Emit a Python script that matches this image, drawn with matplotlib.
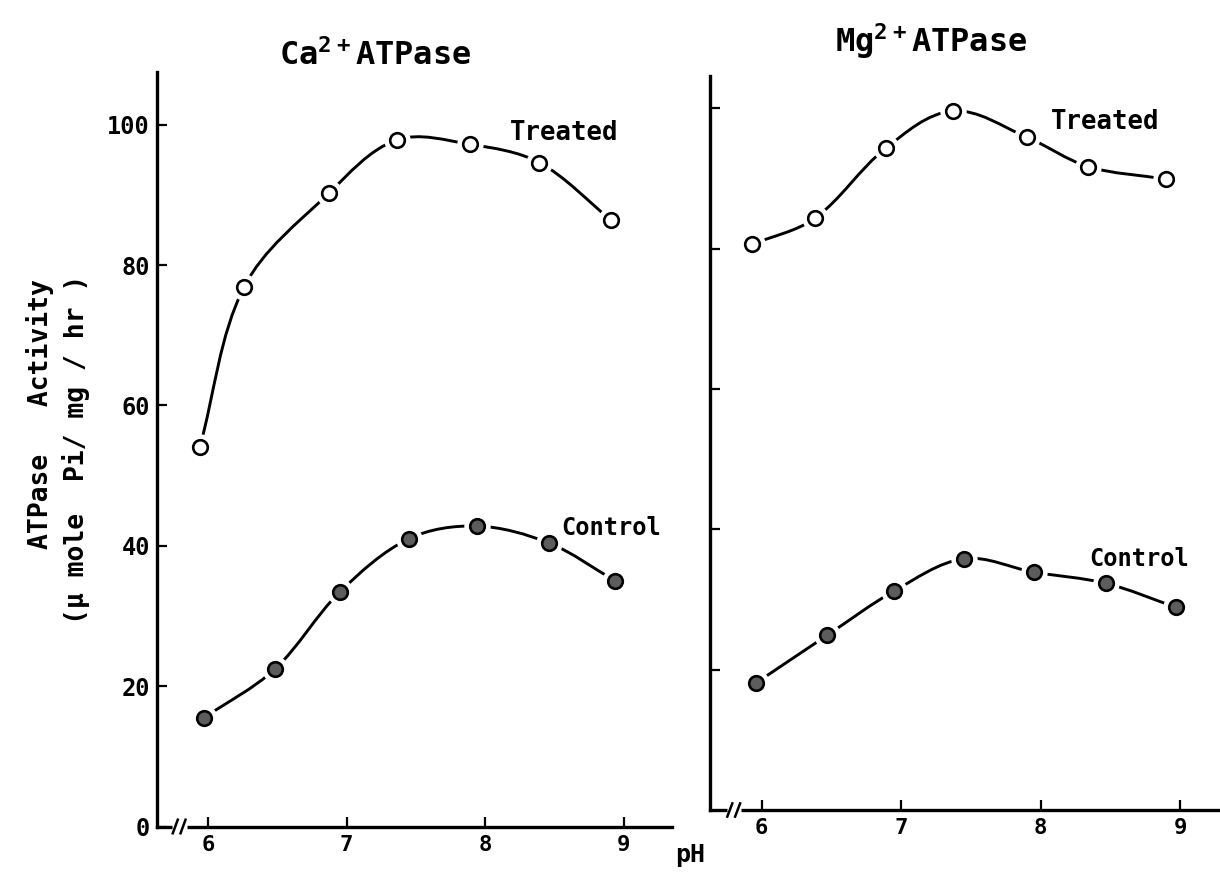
import numpy as np
import matplotlib
matplotlib.use("Agg")
import matplotlib.pyplot as plt
from matplotlib.path import Path
from matplotlib.patches import PathPatch
import matplotlib.transforms as mtransforms

plt.rcParams['font.family'] = ['DejaVu Sans Mono', 'DejaVu Sans']
plt.rcParams['font.weight'] = 'bold'
plt.rcParams['mathtext.default'] = 'regular'

# Ca2+ ATPase activity vs pH
ca_treated_ph = [5.94, 6.26, 6.87, 7.36, 7.89, 8.39, 8.91]
ca_treated = [54.1, 76.9, 90.2, 97.8, 97.2, 94.6, 86.4]
ca_control_ph = [5.97, 6.48, 6.95, 7.45, 7.94, 8.46, 8.94]
ca_control = [15.5, 22.4, 33.4, 41.0, 42.8, 40.4, 35.0]

# Mg2+ ATPase activity vs pH
mg_treated_ph = [5.93, 6.38, 6.89, 7.37, 7.90, 8.34, 8.90]
mg_treated = [80.6, 84.3, 94.3, 99.6, 95.9, 91.7, 89.9]
mg_control_ph = [5.96, 6.47, 6.95, 7.45, 7.95, 8.47, 8.97]
mg_control = [18.1, 24.9, 31.2, 35.8, 33.9, 32.3, 28.9]

ph_ticks = [6, 7, 8, 9]
activity_ticks = [0, 20, 40, 60, 80, 100]
activity_ticks_right = [20, 40, 60, 80, 100]


def smooth_path(ax, x, y):
    """Smooth Bezier curve through the points, shaped in screen space."""
    pts = ax.transData.transform(np.column_stack([x, y]).astype(float))
    n = len(pts)
    tang = []
    for i in range(n):
        if i == 0:
            d = pts[1] - pts[0]
        elif i == n - 1:
            d = pts[-1] - pts[-2]
        else:
            d = pts[i + 1] - pts[i - 1]
        tang.append(d / np.hypot(*d))
    verts = [pts[0]]
    codes = [Path.MOVETO]
    for i in range(n - 1):
        seg = np.hypot(*(pts[i + 1] - pts[i]))
        c1 = pts[i] + tang[i] * seg / 3.0
        c2 = pts[i + 1] - tang[i + 1] * seg / 3.0
        verts += [c1, c2, pts[i + 1]]
        codes += [Path.CURVE4] * 3
    verts = ax.transData.inverted().transform(np.array(verts))
    return Path(verts, codes)


def draw_series(ax, x, y, face):
    ax.add_patch(PathPatch(smooth_path(ax, x, y), fill=False, lw=2.1,
                           ec='black', zorder=2, capstyle='butt'))
    ax.plot(x, y, 'o', ms=19, mfc='white', mec='none', zorder=3)
    ax.plot(x, y, 'o', ms=10.5, mfc=face, mec='black', mew=1.9, zorder=4)


def style_axes(ax):
    for s in ('top', 'right'):
        ax.spines[s].set_visible(False)
    for s in ('left', 'bottom'):
        ax.spines[s].set_linewidth(2.4)
    ax.tick_params(axis='both', direction='in', length=7, width=1.6)
    ax.tick_params(axis='x', labelsize=16, pad=6)
    ax.tick_params(axis='y', labelsize=17, pad=5)
    ax.set_xticks(ph_ticks)
    ax.set_xticklabels([str(t) for t in ph_ticks])


def axis_break(ax, xb):
    trans = mtransforms.blended_transform_factory(ax.transData, ax.transAxes)
    ax.plot([xb - 0.05, xb + 0.055], [0, 0], color='white', lw=5,
            transform=trans, clip_on=False, zorder=5, solid_capstyle='butt')
    for dx in (-0.028, 0.028):
        ax.plot([xb + dx - 0.018, xb + dx + 0.018], [-0.009, 0.009],
                color='black', lw=1.8, transform=trans, clip_on=False, zorder=6)


fig = plt.figure(figsize=(12.2, 8.84), dpi=100)

ax1 = fig.add_axes([157 / 1220, 1 - 826.5 / 884, 515 / 1220, 754.5 / 884])
ax1.set_xlim(5.63, 9.35)
ax1.set_ylim(0, 107.5)
style_axes(ax1)
ax1.set_yticks(activity_ticks)
ax1.set_yticklabels([str(t) for t in activity_ticks])

ax2 = fig.add_axes([710 / 1220, 1 - 810 / 884, 509 / 1220, 734 / 884])
ax2.set_xlim(5.63, 9.28)
ax2.set_ylim(0, 104.6)
style_axes(ax2)
ax2.set_yticks(activity_ticks_right)
ax2.set_yticklabels([])

draw_series(ax1, ca_treated_ph, ca_treated, 'white')
draw_series(ax1, ca_control_ph, ca_control, '#5c5c5c')
axis_break(ax1, 5.79)
ax1.text(8.57, 98.8, 'Treated', fontsize=18.5, ha='center', va='center')
ax1.text(8.91, 42.5, 'Control', fontsize=17, ha='center', va='center')

draw_series(ax2, mg_treated_ph, mg_treated, 'white')
draw_series(ax2, mg_control_ph, mg_control, '#5c5c5c')
axis_break(ax2, 5.80)
ax2.text(8.46, 98.1, 'Treated', fontsize=18.5, ha='center', va='center')
ax2.text(8.71, 35.8, 'Control', fontsize=17, ha='center', va='center')

fig.text(375 / 1220, 1 - 65 / 884, r'Ca$^{2+}$ATPase', fontsize=23,
         ha='center', va='baseline')
fig.text(931 / 1220, 1 - 52 / 884, r'Mg$^{2+}$ATPase', fontsize=23,
         ha='center', va='baseline')

fig.text(40 / 1220, 1 - 414 / 884, 'ATPase   Activity', rotation=90,
         fontsize=19, ha='center', va='center')
fig.text(76 / 1220, 1 - 449 / 884, '(μ mole  Pi/ mg / hr )', rotation=90,
         fontsize=19, ha='center', va='center')
fig.text(690 / 1220, 1 - 855 / 884, 'pH', fontsize=18, ha='center', va='center')

fig.savefig('out.png', dpi=100, facecolor='white')
